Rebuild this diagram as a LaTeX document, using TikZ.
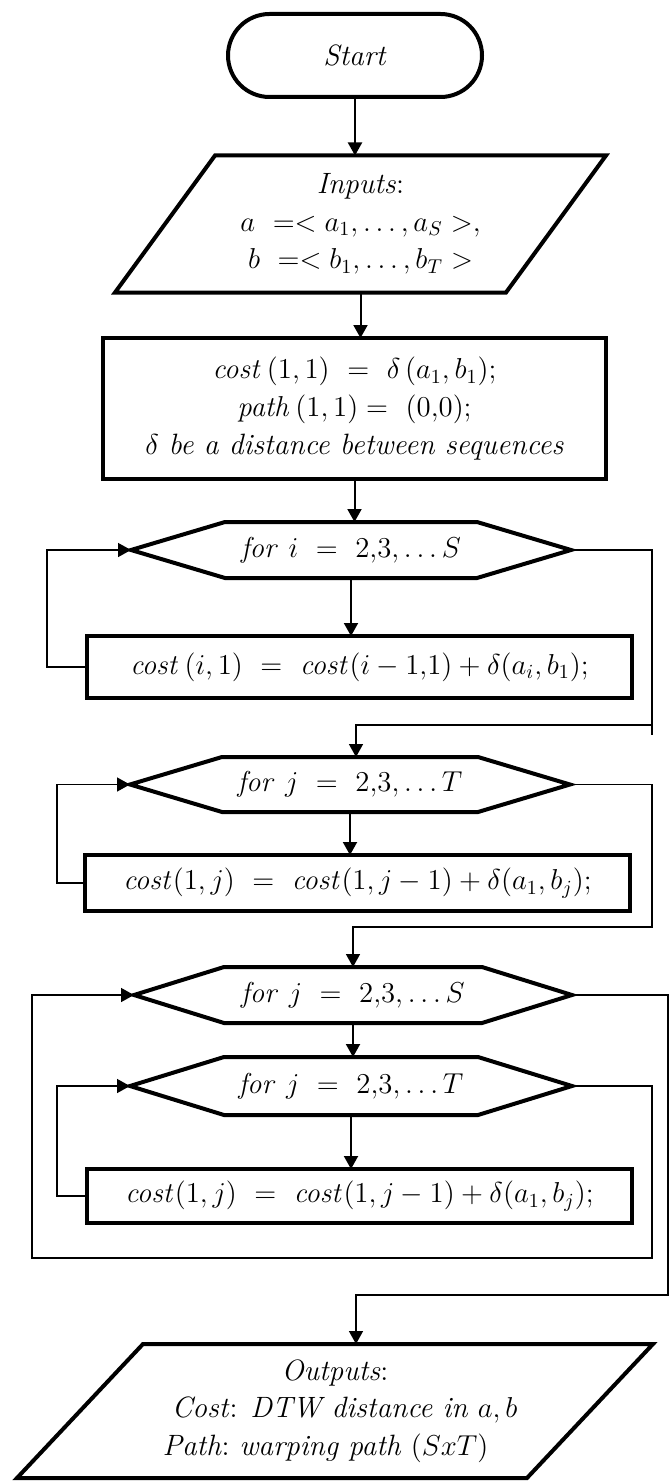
\documentclass[tikz,border=0pt]{standalone}
\usetikzlibrary{arrows.meta,shapes.misc,calc}

% outline of a pointed hexagon laid over a named (undrawn) node
\newcommand\drawhex[2]{%
  \draw[outline] (#1.west) -- ([xshift=#2]#1.north west) -- ([xshift=-#2]#1.north east)
    -- (#1.east) -- ([xshift=-#2]#1.south east) -- ([xshift=#2]#1.south west) -- cycle;}
% outline of a right-leaning parallelogram laid over a named (undrawn) node
\newcommand\drawpara[2]{%
  \draw[outline] ([xshift=#2]#1.north west) -- (#1.north east)
    -- ([xshift=-#2]#1.south east) -- (#1.south west) -- cycle;}

\begin{document}
\begin{tikzpicture}[x=0.5pt,y=-0.5pt,
  lbl/.style={font=\fontsize{14.7}{15.8}\selectfont, align=center, inner sep=0pt, outer sep=0pt},
  boxshape/.style={lbl, draw, line width=2pt},
  hollow/.style={lbl, rectangle},
  outline/.style={line width=2pt, line join=miter},
  flowarrow/.style={line width=1pt, -{Triangle[length=6.5pt,width=7pt]}},
  looparrow/.style={line width=0.75pt, -{Triangle[length=6.5pt,width=7pt]}},
  loopline/.style={line width=0.75pt}]

\useasboundingbox (0,0) rectangle (669,1482);

% start terminal
\node[rounded rectangle, boxshape, minimum width=127pt, minimum height=41.5pt]
  (start) at (355,55.5) {\textit{Start}};

% inputs
\node[hollow, minimum width=245.5pt, minimum height=68.5pt] (inp) at (360.5,224)
  {\textit{Inputs}:\\[3pt] $a\ = < a_1,\ldots,a_S >,$\\[3pt] $b\ = < b_1,\ldots,b_T >$};
\drawpara{inp}{50pt}

% initialisation
\node[boxshape, minimum width=251.5pt, minimum height=70.5pt] (init) at (354.5,408.5)
  {$\mathit{cost}\,(1,1)\ =\ \delta\,(a_1,b_1);$\\[3pt]
   $\mathit{path}\,(1,1) =\ (0{,}0);$\\[3pt]
   $\delta$ \textit{be a distance between sequences}};

% first column
\node[hollow, minimum width=220pt, minimum height=28pt] (f1) at (351,550)
  {$\mathit{for}\ i\ =\ 2{,}3{,}\ldots S$};
\drawhex{f1}{47pt}
\node[boxshape, minimum width=272.5pt, minimum height=31pt] (b1) at (359.5,667)
  {$\mathit{cost}\,(i,1)\ =\ \mathit{cost}(i-1{,}1)+\delta(a_i,b_1);$};

% first row
\node[hollow, minimum width=220pt, minimum height=27.5pt] (f2) at (350,784.5)
  {$\mathit{for}\ j\ =\ 2{,}3{,}\ldots T$};
\drawhex{f2}{46pt}
\node[boxshape, minimum width=272.5pt, minimum height=28pt] (b2) at (357.5,883)
  {$\mathit{cost}(1,j)\ =\ \mathit{cost}(1,j-1)+\delta(a_1,b_j);$};

% nested loops
\node[hollow, minimum width=219pt, minimum height=28pt] (f3) at (353,995)
  {$\mathit{for}\ j\ =\ 2{,}3{,}\ldots S$};
\drawhex{f3}{45pt}
\node[hollow, minimum width=221pt, minimum height=29pt] (f4) at (351,1086)
  {$\mathit{for}\ j\ =\ 2{,}3{,}\ldots T$};
\drawhex{f4}{47pt}
\node[boxshape, minimum width=272.5pt, minimum height=27pt] (b4) at (359.5,1196)
  {$\mathit{cost}(1,j)\ =\ \mathit{cost}(1,j-1)+\delta(a_1,b_j);$};

% outputs
\node[hollow, minimum width=318pt, minimum height=67pt] (out) at (335,1411)
  {\textit{Outputs}:\\[3pt]
   \ \ \textit{Cost}: \textit{DTW distance in} $a,b$\\[3pt]
   \textit{Path}:\ \textit{warping path} $(SxT)$\ \ \ };
\drawpara{out}{63pt}

% main flow
\draw[flowarrow] (start.south) -- (start.south |- inp.north);
\draw[flowarrow] (inp.south) -- (inp.south |- init.north);
\draw[flowarrow] (init.south) -- (init.south |- f1.north);
\draw[flowarrow] (f1.south) -- (f1.south |- b1.north);
\draw[flowarrow] (f2.south) -- (f2.south |- b2.north);
\draw[flowarrow] (f3.south) -- (f3.south |- f4.north);
\draw[flowarrow] (f4.south) -- (f4.south |- b4.north);

% loop returns
\draw[looparrow] (b1.west) -- ++(-40,0) |- (f1.west);
\draw[looparrow] (b2.west) -- ++(-28,0) |- (f2.west);
\draw[looparrow] (b4.west) -- ++(-30,0) |- (f4.west);

% loop exits
\coordinate (j1) at (652,725);
\draw[looparrow] (f1.east) -| (j1) -| ([xshift=3pt]f2.north);
\draw[loopline] (j1) -- ++(0,10);
\coordinate (j2) at (652,927);
\draw[looparrow] (f2.east) -| (j2) -| (f3.north);
\coordinate (j3) at (652,1258);
\coordinate (j4) at (32,1258);
\draw[looparrow] (f4.east) -| (j3) -- (j4) |- (f3.west);
\coordinate (j5) at (668,1295);
\draw[looparrow] (f3.east) -| (j5) -| ([xshift=10.5pt]out.north);

\end{tikzpicture}
\end{document}
